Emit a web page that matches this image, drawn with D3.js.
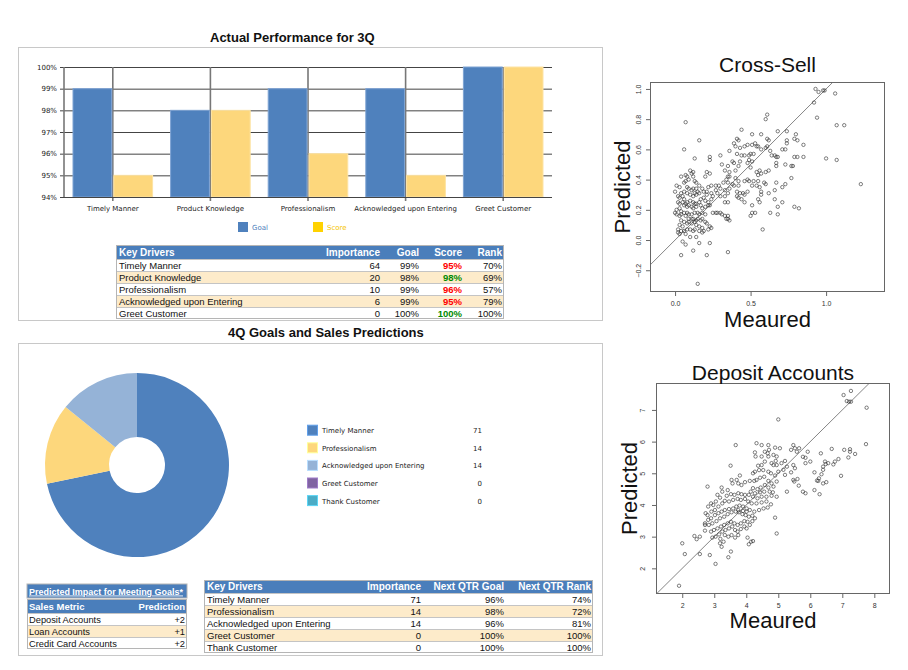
<!DOCTYPE html>
<html><head><meta charset="utf-8">
<script src="https://cdn.jsdelivr.net/npm/d3@7"></script>
<style>body{margin:0;background:#fff}svg{display:block}</style>
</head><body><svg id="c" width="908" height="670"></svg>
<script>
// ---------- DATA ----------
const barCategories = ["Timely Manner","Product Knowledge","Professionalism","Acknowledged upon Entering","Greet Customer"];
const goalValues = [99,98,99,99,100];
const scoreValues = [95,98,96,95,100];
const importance3Q = [64,20,10,6,0];
const rank3Q = [70,69,57,79,100];
const barYTicks = [94,95,96,97,98,99,100];

const pieLabels = ["Timely Manner","Professionalism","Acknowledged upon Entering","Greet Customer","Thank Customer"];
const pieValues = [71,14,14,0,0];
const nextQtrGoal = [96,98,96,100,100];
const nextQtrRank = [74,72,81,100,100];

const salesMetrics = ["Deposit Accounts","Loan Accounts","Credit Card Accounts"];
const salesPredictions = ["+2","+1","+2"];

const crossXTicks = [0.0,0.5,1.0];
const crossYTicks = [-0.2,0.0,0.2,0.4,0.6,0.8,1.0];
const depositXTicks = [2,3,4,5,6,7,8];
const depositYTicks = [2,3,4,5,6,7];

const crossSellPoints = [
[0.93,1.0],[0.95,0.98],[0.98,0.99],[0.99,0.99],[0.92,0.91],[1.06,0.97],[0.94,0.81],[1.07,0.76],[1.12,0.76],[1.0,0.54],[1.07,0.53],[1.23,0.37],
[0.07,0.78],[0.16,0.66],[0.06,0.6],[0.13,0.54],[0.23,0.55],[0.23,0.53],
[0.61,0.83],[0.6,0.8],[0.44,0.73],[0.74,0.72],[0.68,0.72],[0.8,0.7],[0.57,0.7],[0.51,0.7],
[0.85,0.63],[0.85,0.55],[0.79,0.55],[0.81,0.55],[0.79,0.67],[0.81,0.66],[0.74,0.66],[0.74,0.64],[0.73,0.6],[0.71,0.6],
[0.66,0.56],[0.67,0.55],[0.68,0.55],[0.67,0.51],[0.67,0.49],[0.73,0.5],[0.77,0.49],[0.78,0.49],[0.77,0.41],[0.73,0.37],[0.71,0.35],[0.67,0.38],[0.66,0.33],[0.62,0.31],[0.66,0.27],[0.71,0.25],[0.68,0.22],[0.63,0.18],[0.68,0.17],[0.79,0.22],[0.82,0.21],[0.58,0.07],
[0.35,-0.08],[0.15,-0.29],[0.04,-0.1],[0.12,-0.07],[0.21,-0.1],[0.23,-0.02],[0.16,-0.02],[0.05,-0.01],[0.07,-0.03],[0.14,0.02],[0.1,0.02],
[0.41,0.67],[0.42,0.66],[0.48,0.63],[0.51,0.63],[0.53,0.64],[0.54,0.62],[0.55,0.62],[0.57,0.6],[0.6,0.61],[0.61,0.62],[0.62,0.66],[0.61,0.67],[0.63,0.59],[0.64,0.56],[0.46,0.62],[0.43,0.61],[0.4,0.62],[0.39,0.64],[0.36,0.59],[0.41,0.57],[0.44,0.56],[0.46,0.56],[0.49,0.56],[0.5,0.57],[0.52,0.57],[0.49,0.53],[0.48,0.51],[0.5,0.48],[0.43,0.52],[0.51,0.52],[0.3,0.56],[0.38,0.52],[0.31,0.5],[0.35,0.49],[0.39,0.51],[0.33,0.46],[0.36,0.45],[0.4,0.46],[0.42,0.49],[0.54,0.45],[0.56,0.46],[0.55,0.43],[0.57,0.44],[0.62,0.46],[0.6,0.45],[0.35,0.42],[0.36,0.42],[0.34,0.4],[0.4,0.41],[0.42,0.39],[0.46,0.39],[0.48,0.4],[0.49,0.39],[0.52,0.39],[0.55,0.39],[0.59,0.38],[0.6,0.37],[0.51,0.36],[0.54,0.36],[0.56,0.35],[0.42,0.36],[0.39,0.36],[0.38,0.37],[0.32,0.38],[0.29,0.36],[0.27,0.36],[0.24,0.36],[0.22,0.35],[0.41,0.32],[0.43,0.31],[0.45,0.31],[0.48,0.32],[0.46,0.3],[0.41,0.29],[0.42,0.28],[0.44,0.27],[0.46,0.25],[0.57,0.32],[0.57,0.3],[0.55,0.27],[0.56,0.25],[0.51,0.23],[0.51,0.18],[0.5,0.16],[0.53,0.18],[0.35,0.38],[0.36,0.34],[0.33,0.33],[0.35,0.31],[0.3,0.34],[0.28,0.31],[0.3,0.29],[0.33,0.29],[0.33,0.25],[0.35,0.25],
[0.25,0.18],[0.27,0.18],[0.28,0.18],[0.3,0.18],[0.31,0.17],[0.33,0.16],[0.34,0.14],[0.35,0.14],[0.36,0.13],[0.35,0.16],
[0.0,0.32],[0.01,0.36],[0.03,0.35],[0.04,0.42],[0.07,0.43],[0.08,0.42],[0.1,0.46],[0.12,0.45],[0.11,0.44],[0.12,0.42],[0.09,0.4],[0.07,0.39],[0.06,0.38],[0.13,0.39],[0.14,0.38],[0.16,0.36],[0.2,0.42],[0.18,0.34],[0.19,0.32],[0.21,0.32],[0.21,0.3],[0.08,0.35],[0.09,0.34],[0.11,0.33],[0.12,0.34],[0.14,0.34],[0.15,0.32],[0.16,0.31],[0.14,0.3],[0.13,0.31],[0.12,0.29],[0.1,0.3],[0.08,0.31],[0.06,0.32],[0.04,0.31],[0.02,0.29],[0.03,0.28],[0.05,0.29],[0.06,0.27],[0.05,0.25],[0.03,0.24],[0.02,0.25],[0.07,0.24],[0.08,0.25],[0.1,0.26],[0.12,0.25],[0.13,0.24],[0.14,0.24],[0.16,0.25],[0.17,0.27],[0.19,0.28],[0.2,0.26],[0.22,0.25],[0.24,0.27],[0.25,0.29],[0.27,0.33],[0.24,0.31],[0.06,0.23],[0.08,0.22],[0.09,0.23],[0.11,0.22],[0.12,0.21],[0.14,0.22],[0.17,0.23],[0.18,0.21],[0.2,0.22],[0.22,0.23],[0.23,0.23],[0.03,0.21],[0.01,0.2],[0.04,0.19],[0.0,0.18],[0.01,0.17],[0.03,0.16],[0.04,0.17],[0.06,0.18],[0.08,0.18],[0.09,0.17],[0.11,0.17],[0.13,0.18],[0.15,0.18],[0.16,0.17],[0.18,0.18],[0.2,0.17],[0.07,0.16],[0.09,0.14],[0.11,0.14],[0.12,0.14],[0.14,0.13],[0.15,0.14],[0.17,0.13],[0.18,0.14],[0.2,0.12],[0.21,0.11],[0.23,0.09],[0.24,0.08],[0.22,0.07],[0.04,0.13],[0.06,0.12],[0.08,0.11],[0.09,0.12],[0.11,0.11],[0.13,0.12],[0.14,0.1],[0.16,0.09],[0.18,0.08],[0.03,0.1],[0.05,0.09],[0.02,0.07],[0.04,0.06],[0.06,0.06],[0.08,0.07],[0.1,0.07],[0.12,0.06],[0.13,0.07],[0.16,0.06],[0.18,0.05],[0.19,0.06],[0.07,0.04],[0.03,0.04],[0.02,0.05],[0.21,0.45],[0.23,0.44]
];

const depositPoints = [
[1.9,1.45],[2.0,2.79],[2.08,2.45],[2.38,3.02],[2.45,2.92],[2.55,3.0],[2.55,2.45],[2.86,2.42],[3.04,2.14],[3.44,2.35],[3.52,2.53],[2.71,3.19],[2.71,3.37],[2.79,4.58],[3.67,5.89],[3.51,5.24],[5.0,6.7],[4.95,3.1],[4.9,3.6],[4.04,2.97],[4.08,2.76],[4.21,2.86],[4.15,2.84],[3.23,2.68],[3.18,2.79],
[7.04,7.47],[7.27,7.6],[7.14,7.28],[7.21,7.26],[7.27,7.26],[7.76,7.07],[7.74,5.92],[7.4,5.61],[7.24,5.76],[7.24,5.68],[7.06,5.74],[7.19,5.5],[6.96,4.92],[6.88,5.45],[6.77,5.37],[6.72,5.28],[6.67,5.77],[6.56,5.32],[6.46,5.37],[6.48,5.29],[6.4,5.21],[6.33,5.63],[6.4,5.11],[6.35,4.97],[6.27,4.84],[6.25,4.76],[6.5,4.72],[6.4,4.68],[6.29,4.34],[6.13,4.47],[6.13,5.03],[6.21,4.77],[5.92,5.68],[6.0,5.37],[5.85,5.49],[5.77,5.52],[5.85,5.32],[5.65,5.79],[5.58,5.68],[5.47,5.89],[5.52,5.79],[5.4,5.74],[5.77,4.42],[5.85,4.37],[5.64,4.61],[5.6,4.82],[5.5,4.74],[5.47,4.79],[5.4,5.03],[5.47,5.26],[5.52,5.16],[5.27,4.42],[5.21,4.95],[5.16,5.11],[5.27,5.21],[5.21,5.39],[5.1,5.32],
[4.32,5.95],[4.48,5.89],[4.69,5.89],[4.9,5.81],[5.05,5.79],[4.71,5.74],[4.58,5.68],[4.67,5.63],[4.27,5.66],[4.29,5.53],[4.48,5.53],[4.69,5.53],[4.85,5.58],[4.95,5.53],[4.92,5.39],[4.79,5.32],[4.85,5.26],[4.95,5.26],[4.58,5.37],[4.48,5.26],[4.37,5.24],[4.27,5.05],[4.21,5.0],[4.4,5.1],[4.53,5.1],[4.69,5.05],[4.77,5.0],[5.0,5.05],[4.9,4.93],[4.56,4.89],[4.43,4.86],[4.32,4.79],[4.25,4.76],[4.11,4.76],[3.96,4.72],[3.85,4.63],[3.75,4.68],[3.8,4.93],[3.7,4.79],[3.54,4.79],[3.57,4.68],[4.69,4.76],[4.79,4.68],[4.95,4.74],[4.85,4.58],[4.69,4.55],[4.58,4.63],[4.45,4.55],[4.35,4.5],[4.21,4.53],[4.14,4.42],[4.27,4.37],[4.43,4.4],[4.56,4.42],[4.73,4.42],[4.83,4.4],[4.95,4.26],[4.79,4.29],[4.63,4.26],[4.48,4.26],[4.35,4.21],[4.21,4.26],[4.08,4.32],[3.96,4.32],[3.85,4.34],[3.75,4.37],[3.63,4.32],[3.52,4.34],[3.39,4.29],[3.25,4.42],[3.23,4.55],[3.42,4.47],[3.1,4.32],[3.18,4.23],[3.05,4.11],[2.97,4.0],[2.9,4.05],[2.81,3.95],[2.73,3.74],[2.79,3.68],[2.91,3.79],[3.02,3.84],[3.13,3.95],[3.25,4.05],[3.33,4.13],[3.46,4.11],[3.59,4.16],[3.73,4.19],[3.83,4.16],[3.96,4.19],[4.06,4.11],[4.17,4.05],[4.32,4.05],[4.48,4.08],[4.63,4.11],[4.77,4.02],[4.67,3.92],[4.54,3.89],[4.4,3.84],[4.25,3.79],[4.11,3.84],[4.01,3.89],[3.9,3.95],[3.79,3.98],[3.69,3.95],[3.59,3.89],[3.46,3.87],[3.33,3.84],[3.23,3.79],[3.13,3.74],[3.02,3.68],[2.9,3.58],[2.81,3.53],[2.71,3.42],[2.83,3.37],[2.94,3.42],[3.07,3.49],[3.18,3.58],[3.31,3.63],[3.42,3.71],[3.54,3.77],[3.67,3.79],[3.77,3.77],[3.88,3.71],[3.98,3.68],[4.08,3.63],[4.19,3.66],[4.27,3.58],[4.04,3.47],[3.94,3.49],[3.83,3.42],[3.73,3.37],[3.63,3.42],[3.52,3.47],[3.42,3.42],[3.31,3.37],[3.21,3.32],[3.1,3.26],[2.99,3.21],[2.9,3.16],[2.94,2.97],[3.04,3.0],[3.15,3.07],[3.25,3.16],[3.35,3.21],[3.46,3.26],[3.56,3.32],[3.65,3.21],[3.73,3.16],[3.83,3.24],[3.94,3.32],[4.01,3.26],[4.11,3.37],[4.19,3.49],[3.33,3.05],[3.44,3.0],[3.54,3.05],[3.65,2.97],[3.75,3.05],[3.19,2.93],[3.29,2.84],[3.75,3.84],[3.9,3.81],[4.01,3.79]
];

// ---------- COLORS ----------
const cBlue = "#4f81bd", cYellow = "#fdd77c", cLight = "#95b3d7", cPurple = "#8064a2", cTeal = "#4bacc6";
const pieColors = [cBlue, cYellow, cLight, cPurple, cTeal];
const hdrBlue = "#4a7ebb", peach = "#fdebca";
const tFont = "'Liberation Sans', Arial, sans-serif";
const vFont = "'DejaVu Sans', Verdana, sans-serif";

const svg = d3.select("#c");

// ---------- PANELS ----------
svg.append("rect").attr("x",18.5).attr("y",47.5).attr("width",584).attr("height",273)
  .attr("fill","#fff").attr("stroke","#c8c8c8");
svg.append("rect").attr("x",18.5).attr("y",343.5).attr("width",584).attr("height",312)
  .attr("fill","#fff").attr("stroke","#c8c8c8");

svg.append("text").attr("x",210).attr("y",42).attr("font-family",tFont).attr("font-weight","bold")
  .attr("font-size",13).attr("fill","#111").text("Actual Performance for 3Q");
svg.append("text").attr("x",228).attr("y",337).attr("font-family",tFont).attr("font-weight","bold")
  .attr("font-size",13).attr("fill","#111").text("4Q Goals and Sales Predictions");

// ---------- BAR CHART ----------
const bx = d3.scaleBand().domain(barCategories).range([64,552]).padding(0);
const by = d3.scaleLinear().domain([94,100]).range([197,67]);
const bw = bx.bandwidth();
const sub = d3.scaleBand().domain(["Goal","Score"]).range([9, bw-9]).paddingInner(0.05);
const bg = svg.append("g");
bg.selectAll("line.h").data(barYTicks).join("line")
  .attr("x1",60).attr("x2",552).attr("y1",d=>by(d)+0.5).attr("y2",d=>by(d)+0.5)
  .attr("stroke","#444").attr("stroke-width",1);
bg.selectAll("line.v").data(barCategories).join("line")
  .attr("x1",d=>bx(d)+bw/2).attr("x2",d=>bx(d)+bw/2).attr("y1",67).attr("y2",201)
  .attr("stroke","#777").attr("stroke-width",1.6);
bg.append("line").attr("x1",64).attr("x2",64).attr("y1",67).attr("y2",197).attr("stroke","#777").attr("stroke-width",1.6);
const barSeries = [{k:"Goal",vals:goalValues,c:cBlue,e:"#7ea3d3"},{k:"Score",vals:scoreValues,c:cYellow,e:"#fde3a4"}];
barSeries.forEach(s=>{
  bg.selectAll(null).data(barCategories).join("rect")
    .attr("x",(d)=>bx(d)+sub(s.k)).attr("width",sub.bandwidth())
    .attr("y",(d,i)=>by(s.vals[i])).attr("height",(d,i)=>by(94)-by(s.vals[i]))
    .attr("fill",s.c).attr("stroke",s.e).attr("stroke-width",1);
});
bg.append("line").attr("x1",60).attr("x2",552).attr("y1",197.5).attr("y2",197.5).attr("stroke","#444");
bg.selectAll("text.yl").data(barYTicks).join("text")
  .attr("x",57).attr("y",d=>by(d)+2.5).attr("text-anchor","end")
  .attr("font-family",vFont).attr("font-size",7).attr("fill","#222").text(d=>d+"%");
bg.selectAll("text.xl").data(barCategories).join("text")
  .attr("x",d=>bx(d)+bw/2).attr("y",211).attr("text-anchor","middle")
  .attr("font-family",vFont).attr("font-size",7).attr("fill","#222").text(d=>d);
const legB = [{t:"Goal",c:cBlue,tc:cBlue,x:238},{t:"Score",c:"#ffd200",tc:"#f5c400",x:313}];
legB.forEach(l=>{
  bg.append("rect").attr("x",l.x).attr("y",222).attr("width",10).attr("height",10).attr("fill",l.c);
  bg.append("text").attr("x",l.x+14).attr("y",229.5).attr("font-family",vFont).attr("font-size",7)
    .attr("fill",l.tc).text(l.t);
});

// ---------- TABLE HELPER ----------
function drawTable(g, o){
  const x0=o.x0, x1=o.x1;
  let y=o.y0;
  const hs = o.headSize || 10, bs = o.bodySize || 9.5;
  g.append("rect").attr("x",x0).attr("y",y).attr("width",x1-x0).attr("height",o.headH).attr("fill",hdrBlue);
  o.cols.forEach((c,j)=>{
    g.append("text").attr("x",c.x).attr("y",y+o.headH/2+3.6).attr("text-anchor",c.a)
      .attr("font-family",tFont).attr("font-size",hs).attr("font-weight","bold").attr("fill","#fff").text(o.header[j]);
  });
  y+=o.headH;
  o.rows.forEach((r,i)=>{
    g.append("rect").attr("x",x0).attr("y",y).attr("width",x1-x0).attr("height",o.rowH)
      .attr("fill", i%2===1?peach:"#fff");
    g.append("line").attr("x1",x0).attr("x2",x1).attr("y1",y+0.5).attr("y2",y+0.5).attr("stroke","#c4c4c4");
    r.forEach((cell,j)=>{
      const st = o.style? o.style(i,j):null;
      g.append("text").attr("x",o.cols[j].x).attr("y",y+o.rowH/2+3.5).attr("text-anchor",o.cols[j].a)
        .attr("font-family",tFont).attr("font-size",bs)
        .attr("font-weight",st?st.w:"normal").attr("fill",st?st.c:"#111").text(cell);
    });
    y+=o.rowH;
  });
  g.append("rect").attr("x",x0+0.5).attr("y",o.y0+0.5).attr("width",x1-x0-1).attr("height",y-o.y0-1)
    .attr("fill","none").attr("stroke","#b5b5b5");
  return y;
}

drawTable(svg.append("g"),{
  x0:116,x1:504,y0:245,headH:14,rowH:12,
  cols:[{x:119,a:"start"},{x:380,a:"end"},{x:419,a:"end"},{x:462,a:"end"},{x:502,a:"end"}],
  header:["Key Drivers","Importance","Goal","Score","Rank"],
  rows: barCategories.map((c,i)=>[c, String(importance3Q[i]), goalValues[i]+"%", scoreValues[i]+"%", rank3Q[i]+"%"]),
  style:(i,j)=> j===3 ? {w:"bold",c: scoreValues[i]<goalValues[i]?"#ff0000":"#008a00"} : null
});

// ---------- PIE ----------
const pie = d3.pie().sort(null).value(d=>d)(pieValues);
const arc = d3.arc().innerRadius(28).outerRadius(92);
const pg = svg.append("g").attr("transform","translate(137,465)");
pg.selectAll("path").data(pie).join("path").attr("d",arc).attr("fill",(d,i)=>pieColors[i]);

const lg = svg.append("g");
pieLabels.forEach((l,i)=>{
  const cy = 430.7 + i*17.6;
  lg.append("rect").attr("x",307.5).attr("y",cy-5.5).attr("width",10).attr("height",10)
    .attr("fill",pieColors[i]).attr("stroke",d3.color(pieColors[i]).brighter(0.6)).attr("stroke-width",1);
  lg.append("text").attr("x",322).attr("y",cy+2.5).attr("font-family",vFont).attr("font-size",7)
    .attr("fill","#222").text(l);
  lg.append("text").attr("x",482).attr("y",cy+2.5).attr("text-anchor","end").attr("font-family",vFont)
    .attr("font-size",7).attr("fill","#222").text(pieValues[i]);
});

// ---------- BOTTOM LEFT TABLE ----------
const blg = svg.append("g");
blg.append("rect").attr("x",27).attr("y",584).attr("width",160).attr("height",14).attr("fill",hdrBlue)
  .attr("stroke","#b5b5b5");
blg.append("text").attr("x",29).attr("y",594.5).attr("font-family",tFont).attr("font-size",8.6)
  .attr("font-weight","bold").attr("fill","#fff").attr("text-decoration","underline")
  .attr("textLength",154).attr("lengthAdjust","spacingAndGlyphs")
  .text("Predicted Impact for Meeting Goals*");
drawTable(blg,{
  x0:27,x1:187,y0:599,headH:14,rowH:12,headSize:9.5,bodySize:9.3,
  cols:[{x:29,a:"start"},{x:185,a:"end"}],
  header:["Sales Metric","Prediction"],
  rows: salesMetrics.map((m,i)=>[m, salesPredictions[i]])
});

// ---------- BOTTOM RIGHT TABLE ----------
drawTable(svg.append("g"),{
  x0:204,x1:593,y0:580,headH:13,rowH:12,
  cols:[{x:207,a:"start"},{x:421,a:"end"},{x:504,a:"end"},{x:591,a:"end"}],
  header:["Key Drivers","Importance","Next QTR Goal","Next QTR Rank"],
  rows: pieLabels.map((c,i)=>[c, String(pieValues[i]), nextQtrGoal[i]+"%", nextQtrRank[i]+"%"])
});

// ---------- SCATTER ----------
function scatter(o){
  const g = svg.append("g");
  const x = d3.scaleLinear().domain(o.xd).range([o.l,o.r]);
  const y = d3.scaleLinear().domain(o.yd).range([o.b,o.t]);
  const id = "clip"+o.id;
  g.append("clipPath").attr("id",id).append("rect").attr("x",o.l).attr("y",o.t).attr("width",o.r-o.l).attr("height",o.b-o.t);
  const lo = Math.max(o.xd[0],o.yd[0]), hi = Math.min(o.xd[1],o.yd[1]);
  g.append("line").attr("clip-path",`url(#${id})`)
    .attr("x1",x(lo)).attr("y1",y(lo)).attr("x2",x(hi)).attr("y2",y(hi))
    .attr("stroke","#666").attr("stroke-width",0.8);
  g.append("g").attr("clip-path",`url(#${id})`).selectAll("circle").data(o.pts).join("circle")
    .attr("cx",d=>x(d[0])).attr("cy",d=>y(d[1])).attr("r",1.7)
    .attr("fill","none").attr("stroke","#2a2a2a").attr("stroke-width",0.6);
  g.append("rect").attr("x",o.l+0.5).attr("y",o.t+0.5).attr("width",o.r-o.l-1).attr("height",o.b-o.t-1)
    .attr("fill","none").attr("stroke","#666").attr("stroke-width",1);
  const xa = g.append("g").attr("transform",`translate(0,${o.b})`)
    .call(d3.axisBottom(x).tickValues(o.xt).tickSize(4).tickPadding(5).tickFormat(o.xf));
  xa.select(".domain").remove();
  xa.selectAll("line").attr("stroke","#666");
  xa.selectAll("text").attr("font-family",tFont).attr("font-size",7).attr("fill","#333");
  const ya = g.append("g").attr("transform",`translate(${o.l},0)`)
    .call(d3.axisLeft(y).tickValues(o.yt).tickSize(4).tickFormat(o.yf));
  ya.select(".domain").remove();
  ya.selectAll("line").attr("stroke","#666");
  ya.selectAll("text").attr("font-family",tFont).attr("font-size",7).attr("fill","#333")
    .attr("text-anchor","middle").attr("x",0).attr("dy",0)
    .attr("transform",`translate(${o.ylx},0) rotate(-90)`);
  g.append("text").attr("x",(o.l+o.r)/2).attr("y",o.titleY).attr("text-anchor","middle")
    .attr("font-family",tFont).attr("font-size",21).attr("fill","#111").text(o.title);
  g.append("text").attr("x",(o.l+o.r)/2).attr("y",o.xlabY).attr("text-anchor","middle")
    .attr("font-family",tFont).attr("font-size",22).attr("fill","#111").text("Meaured");
  g.append("text").attr("transform",`translate(${o.ylabX},${(o.t+o.b)/2}) rotate(-90)`).attr("text-anchor","middle")
    .attr("font-family",tFont).attr("font-size",22).attr("fill","#111").text("Predicted");
}

scatter({id:"cs",pts:crossSellPoints,xd:[-0.166,1.39],yd:[-0.344,1.046],l:650,r:885,t:82,b:292,
  xt:crossXTicks,yt:crossYTicks,xf:d3.format(".1f"),yf:d3.format(".1f"),ylx:-9,
  title:"Cross-Sell",titleY:72,xlabY:327,ylabX:630});
scatter({id:"dp",pts:depositPoints,xd:[1.18,8.49],yd:[1.19,7.85],l:656,r:890,t:383,b:594,
  xt:depositXTicks,yt:depositYTicks,xf:d3.format("d"),yf:d3.format("d"),ylx:-11,
  title:"Deposit Accounts",titleY:380,xlabY:628,ylabX:637});
</script></body></html>
